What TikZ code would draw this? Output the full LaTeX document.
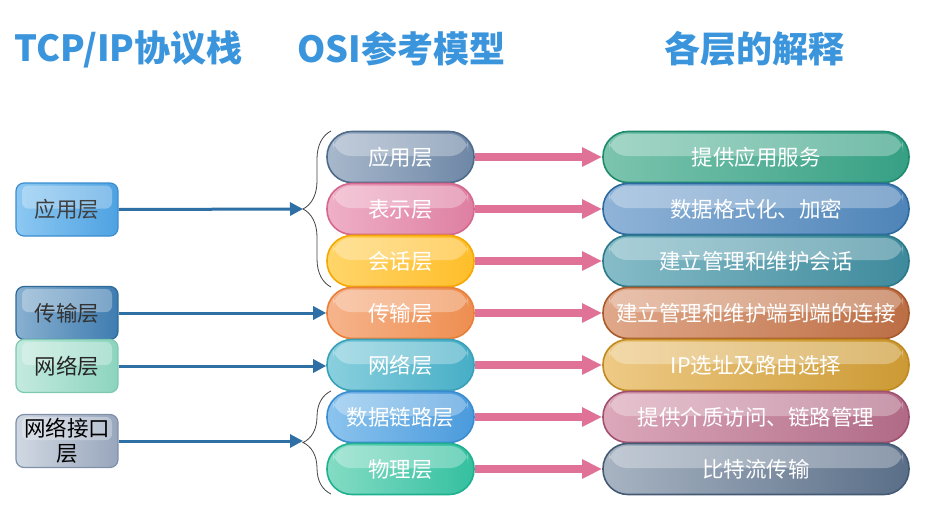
\documentclass[tikz,border=0pt]{standalone}
\usepackage{fontspec}
\setmainfont{Noto Sans CJK SC}
\usetikzlibrary{arrows.meta,decorations.pathreplacing,calc}
\definecolor{titleblue}{HTML}{3A95DC}
\definecolor{arrowblue}{HTML}{2E6FA5}
\definecolor{arrowpink}{HTML}{E07298}
\definecolor{braceg}{HTML}{444444}
\tikzset{
  x=1pt, y=-1pt,
  gloss/.style={path picture={
    \fill[white, fill opacity=0.3, rounded corners=#1]
      ([xshift=6pt,yshift=-2.5pt]path picture bounding box.north west) rectangle
      ([xshift=-6pt,yshift=1pt]path picture bounding box.east);}},
  pill/.style={rounded corners=25pt, minimum width=147pt, minimum height=51pt,
    line width=1.6pt, text=white, inner sep=0pt, gloss=18pt,
    font=\fontsize{21.5}{24}\selectfont},
  rpill/.style={pill, minimum width=306pt},
  lbox/.style={rounded corners=8pt, minimum width=102pt, minimum height=53pt,
    line width=1.2pt, inner sep=0pt, align=center, gloss=6pt,
    font=\fontsize{21.5}{25}\selectfont},
  col/.style n args={3}{/utils/exec={\definecolor{c#1}{HTML}{#1}\definecolor{c#2}{HTML}{#2}\definecolor{c#3}{HTML}{#3}},
    draw=c#1, left color=c#2, right color=c#3},
  title/.style={text=titleblue, font=\fontsize{36}{40}\selectfont\bfseries, anchor=west},
  barrow/.style={draw=arrowblue, line width=3pt, -{Triangle[length=13pt,width=13pt]}},
  parrow/.style={draw=arrowpink, line width=8pt, -{Triangle[length=20pt,width=18pt]}},
  bracestyle/.style={draw=braceg, line width=0.8pt, decorate,
    decoration={brace, amplitude=28pt}},
}
\begin{document}
\begin{tikzpicture}
\useasboundingbox[fill=white] (0,0) rectangle (929,506);
% titles
\node[title] (t1) at (11,49) {TCP/IP协议栈};
\node[title] (t2) at (294,49) {OSI参考模型};
\node[title] (t3) at (661,49) {各层的解释};

% middle pills
\node[pill, col={4F6B8A}{A8B8CC}{6E87A6}] (m1) at (400.5,157) {应用层};
\node[pill, col={D4688E}{EFB0C6}{DE7FA2}] (m2) at (400.5,209) {表示层};
\node[pill, col={F5A800}{FFD56A}{FFBE2A}] (m3) at (400.5,261) {会话层};
\node[pill, col={E8803A}{F6B48C}{EE8E50}] (m4) at (400.5,313) {传输层};
\node[pill, col={3AA0B8}{8AD0DE}{46AEC6}] (m5) at (400.5,365) {网络层};
\node[pill, col={3A8CD0}{8CC4EE}{4A9ADC}] (m6) at (400.5,417) {数据链路层};
\node[pill, col={20B090}{84DCC4}{34C0A0}] (m7) at (400.5,469) {物理层};

% right pills
\node[rpill, col={1E8A6E}{7CC4AE}{36A084}] (r1) at (756,157) {提供应用服务};
\node[rpill, col={2C6AA0}{90B4D8}{4E84B8}] (r2) at (756,209) {数据格式化、加密};
\node[rpill, col={2A7A8A}{86BCC8}{3E8A9C}] (r3) at (756,261) {建立管理和维护会话};
\node[rpill, col={A85A2C}{E0A88A}{BC6E44}] (r4) at (756,313) {建立管理和维护端到端的连接};
\node[rpill, col={C08A20}{EECA86}{CC9A34}] (r5) at (756,365) {IP选址及路由选择};
\node[rpill, col={A05070}{DCA8BA}{B06A86}] (r6) at (756,417) {提供介质访问、链路管理};
\node[rpill, col={445A75}{A8B4C2}{5A6E88}] (r7) at (756,469) {比特流传输};

% left boxes
\node[lbox, col={3A8ED0}{8CC8F2}{4EA2E2}, text=black!75] (l1) at (67,209.5) {应用层};
\node[lbox, col={2E6A98}{88B0D0}{3E7CB0}, text=black!80] (l2) at (67,313) {传输层};
\node[lbox, col={7CC8B0}{C4EADE}{8CD4BE}, text=black!85] (l3) at (67,366) {网络层};
\node[lbox, col={8090A8}{D0D8E2}{98A6BC}, text=black] (l4) at (67,441) {网络接口\\层};

% braces
\draw[bracestyle] (331,287) -- (331,131);
\draw[bracestyle] (331,494) -- (331,391);
\coordinate (b1) at (303,209);
\coordinate (b2) at (303,442.5);

% blue arrows
\draw[barrow] (l1.east) -- (b1);
\draw[barrow] (l2.east) -- (m4.west);
\draw[barrow] (l3.east) -- (l3.east -| m5.west);
\draw[barrow] (l4.east) -- (l4.east -| b2);

% pink arrows
\foreach \i in {1,...,7} {
  \draw[parrow] (m\i.east) -- (r\i.west);
}
\end{tikzpicture}
\end{document}
